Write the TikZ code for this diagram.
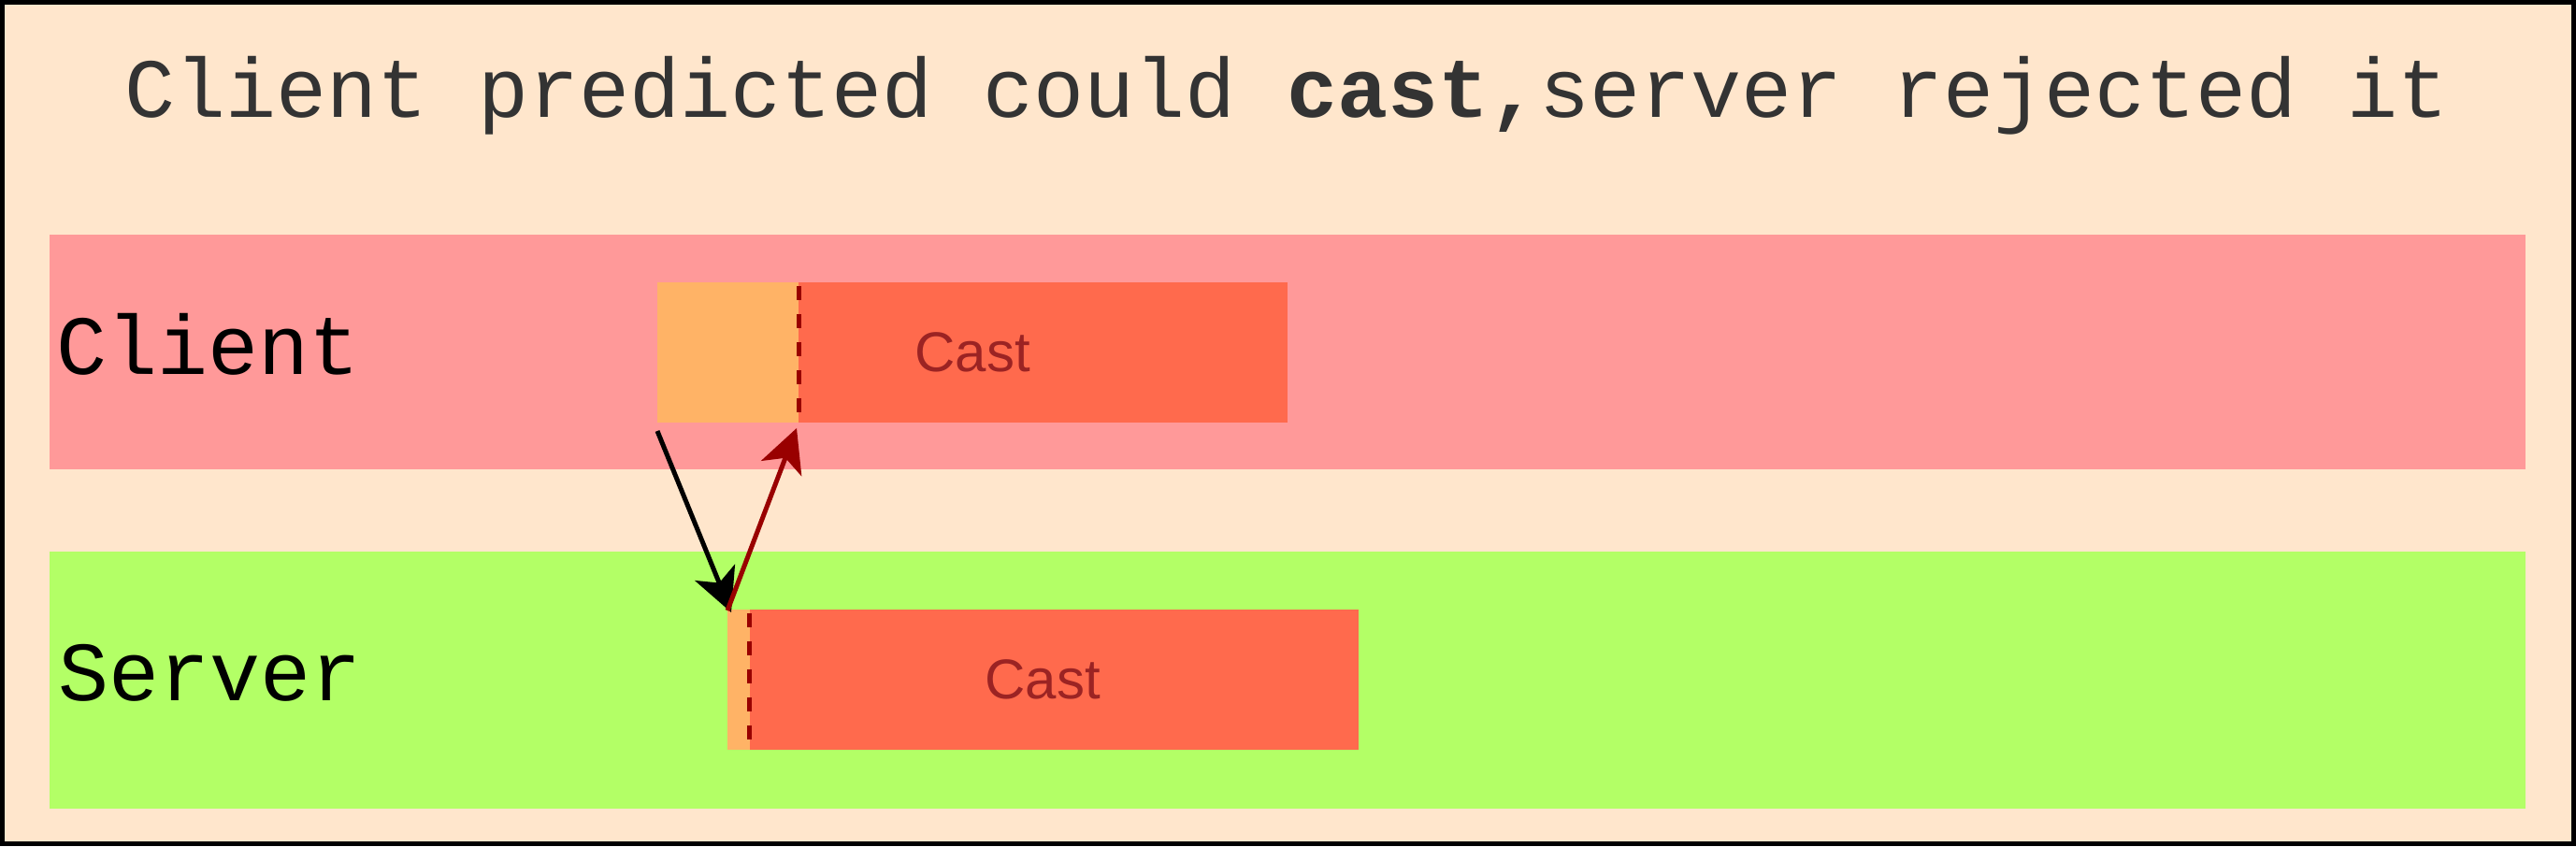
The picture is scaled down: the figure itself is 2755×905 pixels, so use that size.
\documentclass[tikz,border=0pt]{standalone}
\usepackage{fontspec}
\setmainfont{Liberation Sans}
\setmonofont{Liberation Mono}
\usetikzlibrary{arrows.meta}
\definecolor{bgc}{HTML}{FFE6CC}
\definecolor{clientc}{HTML}{FF9999}
\definecolor{serverc}{HTML}{B3FF66}
\definecolor{predc}{HTML}{FFB366}
\definecolor{castc}{HTML}{FF6A4D}
\definecolor{darkredc}{HTML}{990000}
\definecolor{casttext}{HTML}{9B2323}
\definecolor{titlec}{HTML}{333333}
\begin{document}
\begin{tikzpicture}[x=0.5pt,y=-0.5pt,
  lane/.style={rectangle, inner sep=0pt, outer sep=0pt, minimum width=1324pt},
  bar/.style={rectangle, inner sep=0pt, outer sep=0pt, minimum height=75pt},
  monolabel/.style={inner sep=0pt, font=\ttfamily\fontsize{45}{54}\selectfont},
  casttxt/.style={inner sep=0pt, font=\fontsize{30}{36}\selectfont, text=casttext},
  divider/.style={draw=darkredc, line width=2.5pt, dash pattern=on 7.5pt off 7.5pt, dash phase=13pt},
  msg/.style={line width=2.5pt, -{Stealth[length=23pt,width=23pt,inset=6pt]}}]
\useasboundingbox (0,0) rectangle (2755,905);
\fill[bgc] (0,0) rectangle (2755,905);
\draw[line width=2.5pt] (2.5,2.5) rectangle (2752.5,902.5);

\node[monolabel, text=titlec, anchor=base] (title) at (1376,125) {Client predicted could \textbf{cast,}server rejected it};

\node[lane, fill=clientc, minimum height=125.5pt] (clientlane) at (1377,376.5) {};
\node[lane, fill=serverc, minimum height=137.5pt] (serverlane) at (1377,727.5) {};
\node[monolabel, anchor=base west] (clientlbl) at (60,400) {Client};
\node[monolabel, anchor=base west] (serverlbl) at (62,749) {Server};

\node[bar, fill=predc, minimum width=75.5pt] (cpred) at (778.5,377) {};
\node[bar, fill=castc, minimum width=261.5pt] (ccast) at (1115.5,377) {};
\node[casttxt] (ccastlbl) at (1040,377) {Cast};
\node[bar, fill=predc, minimum width=12pt] (spred) at (790,727) {};
\node[bar, fill=castc, minimum width=325.5pt] (scast) at (1127.5,727) {};
\node[casttxt] (scastlbl) at (1115,727) {Cast};

\draw[divider] (cpred.north east) -- (cpred.south east);
\draw[divider] ([xshift=-0.5pt]spred.north east) -- ([xshift=-0.5pt]spred.south east);

\draw[msg, black] ([yshift=-4.5pt]cpred.south west) -- ([xshift=2pt,yshift=-1.5pt]spred.north west);
\draw[msg, darkredc] ([yshift=-0.5pt]spred.north west) -- ([xshift=-1pt,yshift=-3pt]cpred.south east);
\end{tikzpicture}
\end{document}
